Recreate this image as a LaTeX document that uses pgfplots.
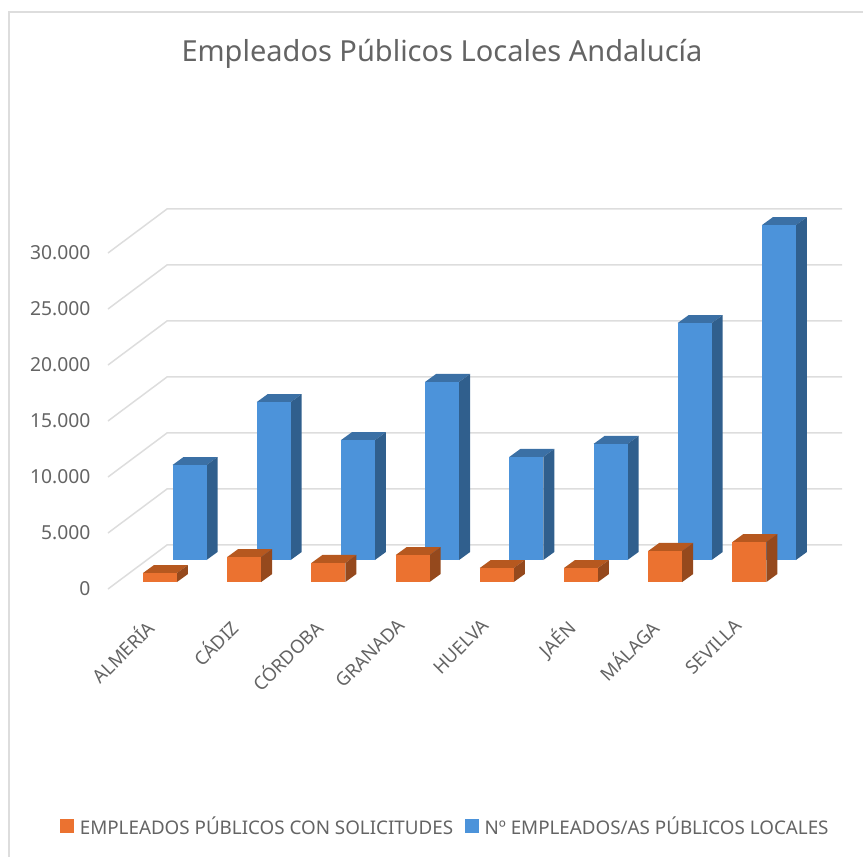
\documentclass[border=0pt]{standalone}
\usepackage{fontspec}
\setmainfont{Noto Sans}
\usepackage{pgfplots}
\pgfplotsset{compat=1.18}

\definecolor{texto}{HTML}{646464}
\definecolor{rejilla}{HTML}{DDDDDD}
\definecolor{naranja}{HTML}{EB7230}
\definecolor{naranjaT}{HTML}{B6581F}
\definecolor{naranjaS}{HTML}{95491D}
\definecolor{azul}{HTML}{4C93DA}
\definecolor{azulT}{HTML}{3B70A5}
\definecolor{azulS}{HTML}{305F8D}

% 1 category = 84.2 px, 1 px = 89.286 units on y
\newcommand{\bloque}[5]{% category, value, base on y, colour, x offset
  \pgfmathsetmacro\xa{#1+#5-0.2019}
  \pgfmathsetmacro\xb{#1+#5+0.2019}
  \pgfmathsetmacro\xc{\xb+0.1306}
  \pgfmathsetmacro\xd{\xa+0.1306}
  \edef\ya{\the\numexpr#3\relax}
  \edef\yb{\the\numexpr#3+#2\relax}
  \edef\yc{\the\numexpr\ya+714\relax}
  \edef\yd{\the\numexpr\yb+714\relax}
  \edef\caras{
    \noexpand\addplot[fill=#4T,draw=none,forget plot] coordinates {(\xa,\yb) (\xb,\yb) (\xc,\yd) (\xd,\yd)} -- cycle;
    \noexpand\addplot[fill=#4S,draw=none,forget plot] coordinates {(\xb,\ya) (\xc,\yc) (\xc,\yd) (\xb,\yb)} -- cycle;
    \noexpand\addplot[fill=#4,draw=none,forget plot] coordinates {(\xa,\ya) (\xb,\ya) (\xb,\yb) (\xa,\yb)} -- cycle;
  }\caras
}
\newcommand{\azul}[2]{\bloque{#1}{#2}{2589}{azul}{0.3504}}
\newcommand{\naranja}[2]{\bloque{#1}{#2}{625}{naranja}{0}}
\newcommand{\guia}[1]{% gridline: left wall and back wall
  \edef\yy{\the\numexpr#1+3929\relax}
  \edef\linea{\noexpand\addplot[rejilla,line width=1.5pt,forget plot] coordinates {(-0.6176,#1) (0.0831,\yy) (8.0998,\yy)};}\linea
}

\begin{document}
\begin{tikzpicture}
\path[use as bounding box] (-108pt,-268pt) rectangle (755pt,589pt);
\draw[rejilla,line width=1.5pt] (-99pt,-268pt) -- (-99pt,577pt) -- (755pt,577pt);
\node[text=texto,font=\fontsize{29}{34}\selectfont] at (334pt,535.5pt) {Empleados Públicos Locales Andalucía};
\begin{axis}[
    at={(0pt,0pt)}, anchor=south west,
    scale only axis,
    width=734pt, height=380pt,
    xmin=-0.6176, xmax=8.0998,
    ymin=0, ymax=33928.57,
    clip=false,
    axis line style={draw=none},
    tick style={draw=none},
    xtick={0,1,2,3,4,5,6,7},
    xticklabels={ALMERÍA,CÁDIZ,CÓRDOBA,GRANADA,HUELVA,JAÉN,MÁLAGA,SEVILLA},
    x tick label style={rotate=45,anchor=north east,text=texto,font=\fontsize{18.5}{22}\selectfont,xshift=-28pt,yshift=-5pt},
    ytick={0,5000,10000,15000,20000,25000,30000},
    scaled y ticks=false,
    y tick label style={text=texto,font=\fontsize{19.3}{22}\selectfont,xshift=-14pt,yshift=0pt,
      /pgf/number format/assume math mode=true,
      /pgf/number format/1000 sep={.}},
    legend columns=2,
    legend style={at={(0.4598,-0.6237)},anchor=center,draw=none,fill=none,
      font=\fontsize{18.8}{22}\selectfont,text=texto,
      /tikz/every even column/.append style={column sep=10pt}},
    legend cell align=left,
    legend image code/.code={\fill[#1] (0pt,-6pt) rectangle (13pt,7pt);\path (17pt,0pt);},
]
\guia{0}
\guia{5000}
\guia{10000}
\guia{15000}
\guia{20000}
\guia{25000}
\guia{30000}

% No empleados/as publicos locales
\azul{0}{8480}
\azul{1}{14100}
\azul{2}{10700}
\azul{3}{15900}
\azul{4}{9200}
\azul{5}{10360}
\azul{6}{21160}
\azul{7}{29900}

% Empleados publicos con solicitudes
\naranja{0}{800}
\naranja{1}{2230}
\naranja{2}{1700}
\naranja{3}{2400}
\naranja{4}{1250}
\naranja{5}{1250}
\naranja{6}{2770}
\naranja{7}{3570}

\addlegendimage{naranja}
\addlegendentry{EMPLEADOS PÚBLICOS CON SOLICITUDES}
\addlegendimage{azul}
\addlegendentry{Nº EMPLEADOS/AS PÚBLICOS LOCALES}
\end{axis}
\end{tikzpicture}
\end{document}
